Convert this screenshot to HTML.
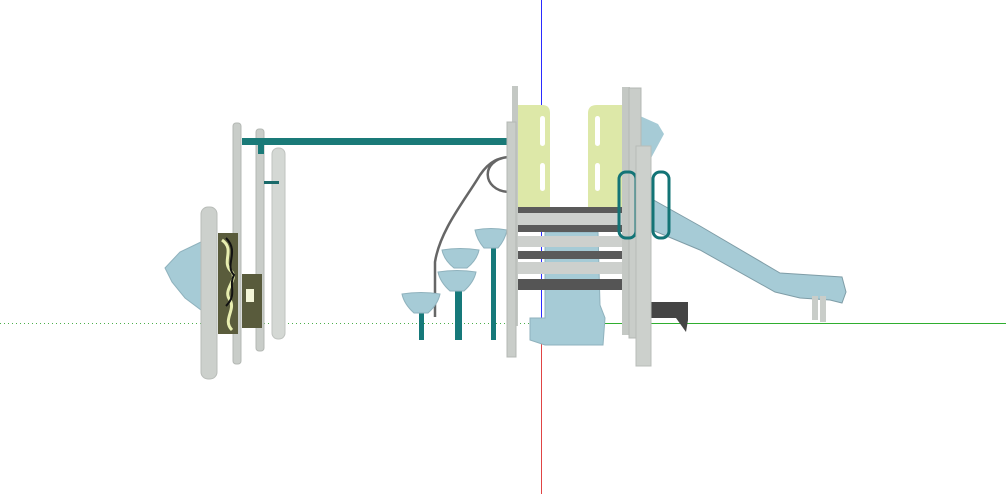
<!DOCTYPE html>
<html><head><meta charset="utf-8"><style>html,body{margin:0;padding:0;background:#fff;width:1006px;height:494px;overflow:hidden}</style></head>
<body>
<svg width="1006" height="494" viewBox="0 0 1006 494" xmlns="http://www.w3.org/2000/svg">
<line x1="0" y1="323.5" x2="541" y2="323.5" stroke="#4caf4c" stroke-width="1" stroke-dasharray="1,3"/>
<line x1="541" y1="323.5" x2="1006" y2="323.5" stroke="#2fae2f" stroke-width="1"/>
<line x1="541.5" y1="0" x2="541.5" y2="323" stroke="#2b2bff" stroke-width="1"/>
<line x1="541.5" y1="323" x2="541.5" y2="494" stroke="#e04444" stroke-width="1"/>

<path d="M201,242 L180,252 L165,268 L172,282 L185,298 L201,310 Z" fill="#a6cbd6" stroke="#8fb2bd"/>
<rect x="272" y="148" width="13" height="191" rx="6" fill="#d4d8d4" stroke="#bfc3bf"/>
<rect x="256" y="129" width="8" height="222" rx="3" fill="#c9cdc9" stroke="#b4b8b4"/>
<rect x="233" y="123" width="8" height="241" rx="3" fill="#c9cdc9" stroke="#b4b8b4"/>
<rect x="242" y="138" width="267" height="7" fill="#1a7a78"/>
<rect x="258" y="144" width="6" height="10" fill="#1a7a78"/>
<rect x="264" y="181" width="15" height="3" fill="#1a6a6a"/>
<rect x="242" y="274" width="20" height="54" fill="#595b3c"/>
<rect x="246" y="289" width="8" height="13" fill="#f4f6d8"/>
<rect x="218" y="233" width="20" height="101" fill="#5a5c3c"/>
<path d="M222,240 C236,250 220,262 232,272 C238,280 222,290 230,300 C236,310 222,320 232,330" fill="none" stroke="#e8eeb0" stroke-width="3"/>
<path d="M226,238 C240,252 224,265 234,275 C228,286 238,294 226,306" fill="none" stroke="#111" stroke-width="2"/>
<rect x="201" y="207" width="16" height="172" rx="7" fill="#ccd0cc" stroke="#b8bcb8"/>

<path d="M435,317 L435,262 C440,230 465,200 480,175 C490,160 500,158 508,157 M508,157 C480,160 482,190 508,192" fill="none" stroke="#666" stroke-width="2.5"/>
<rect x="419" y="310" width="5" height="30" fill="#16797a"/>
<rect x="455" y="285" width="7" height="55" fill="#16797a"/>
<rect x="491" y="245" width="5" height="95" fill="#16797a"/>
<path d="M402,294 Q421,291 440,294 Q438,304 428,313 L414,313 Q404,304 402,294 Z" fill="#a6cbd6" stroke="#8fb2bd"/>
<path d="M438,272 Q457,269 476,272 Q474,282 464,291 L450,291 Q440,282 438,272 Z" fill="#a6cbd6" stroke="#8fb2bd"/>
<path d="M442,250 Q460,247 479,250 Q477,260 467,268 L454,268 Q444,260 442,250 Z" fill="#a6cbd6" stroke="#8fb2bd"/>
<path d="M475,230 Q491,227 507,230 Q505,240 498,248 L484,248 Q477,240 475,230 Z" fill="#a6cbd6" stroke="#8fb2bd"/>
<path d="M514,140 L523,145 L524,170 L514,165 Z" fill="none" stroke="#555" stroke-width="2"/>

<path d="M640,116 L658,124 L664,134 L650,160 L640,160 Z" fill="#a6cbd6"/>
<path d="M650,198 L700,226 L780,273 L842,277 L846,292 L842,303 L830,300 L800,298 L775,292 L700,250 L652,230 Z" fill="#a6cbd6" stroke="#7f9da7"/>
<rect x="812" y="296" width="6" height="24" fill="#c9cdc9"/>
<rect x="820" y="296" width="6" height="26" fill="#c9cdc9"/>
<path d="M650,302 L688,302 L688,320 L686,332 L676,318 L650,318 Z" fill="#444"/>

<path d="M545,232 L598,232 L600,305 L605,318 L603,345 L545,345 L530,340 L530,318 L545,318 Z" fill="#a6cbd6" stroke="#8fb2bd"/>

<path d="M518,105 L542,105 Q550,105 550,113 L550,207 L518,207 Z" fill="#dde8a8"/>
<path d="M622,105 L597,105 Q588,105 588,113 L588,207 L622,207 Z" fill="#dde8a8"/>
<rect x="540" y="116" width="5" height="30" rx="2.5" fill="#fff"/>
<rect x="540" y="163" width="5" height="28" rx="2.5" fill="#fff"/>
<rect x="595" y="116" width="5" height="30" rx="2.5" fill="#fff"/>
<rect x="595" y="163" width="5" height="28" rx="2.5" fill="#fff"/>

<rect x="517" y="207" width="105" height="6" fill="#5a5a5a"/>
<rect x="517" y="213" width="105" height="12" fill="#cdd0cd"/>
<rect x="517" y="225" width="105" height="7" fill="#5a5a5a"/>
<rect x="517" y="236" width="105" height="11" fill="#cdd0cd"/>
<rect x="517" y="251" width="105" height="8" fill="#5a5a5a"/>
<rect x="517" y="262" width="105" height="12" fill="#cdd0cd"/>
<rect x="513" y="279" width="123" height="11" fill="#555"/>

<rect x="512" y="86" width="6" height="240" fill="#c4c8c4"/>
<rect x="507" y="122" width="9" height="235" fill="#c9cdc9" stroke="#b4b8b4"/>
<rect x="622" y="87" width="8" height="248" fill="#c4c8c4"/>
<rect x="629" y="88" width="12" height="250" fill="#c9cdc9" stroke="#b4b8b4"/>
<rect x="619" y="172" width="17" height="66" rx="7" fill="none" stroke="#137476" stroke-width="3"/>
<rect x="653" y="172" width="16" height="66" rx="7" fill="none" stroke="#137476" stroke-width="3"/>
<rect x="636" y="146" width="15" height="220" fill="#ccd0cc" stroke="#b8bcb8"/>
</svg>
</body></html>
